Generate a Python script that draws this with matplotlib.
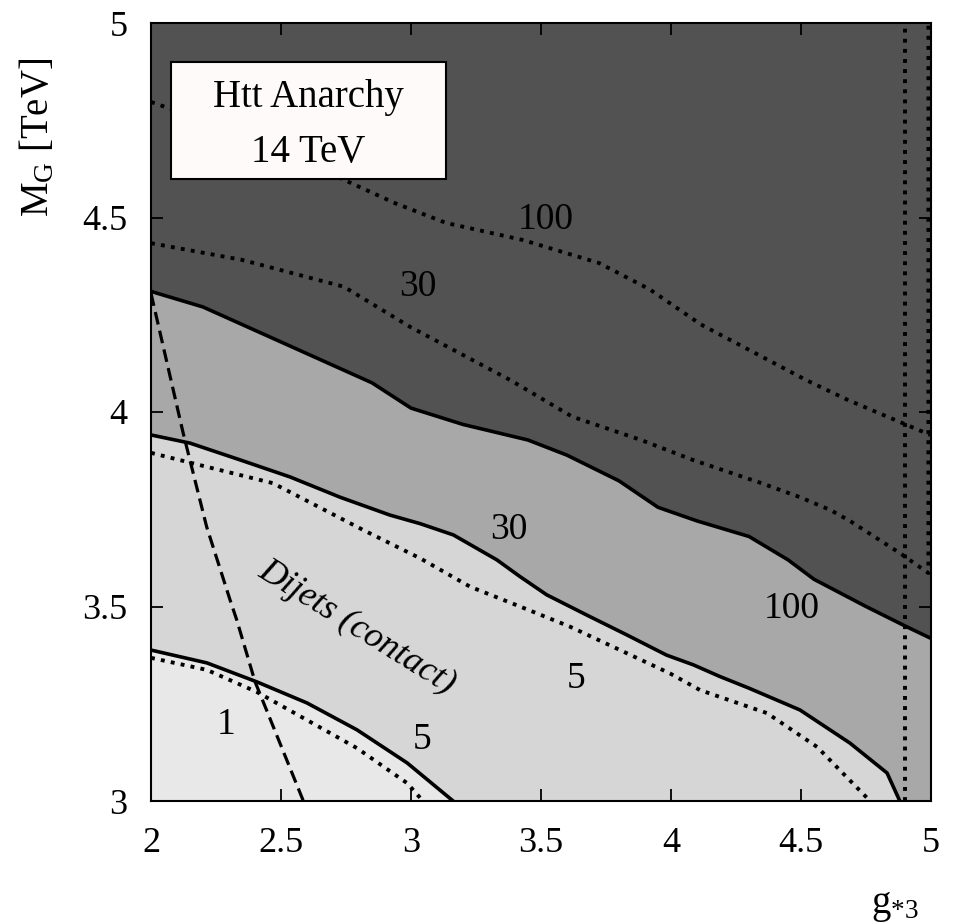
import matplotlib
matplotlib.use("Agg")
import matplotlib.pyplot as plt
from matplotlib.patches import Rectangle
import numpy as np

plt.rcParams['font.family'] = ['Liberation Serif', 'DejaVu Serif']
plt.rcParams['mathtext.fontset'] = 'custom'
plt.rcParams['mathtext.rm'] = 'Liberation Serif'
plt.rcParams['mathtext.it'] = 'Liberation Serif:italic'

# ---- data ----
# solid contour "100" (dark / mid boundary)
top_x = [2.0, 2.2, 2.45, 2.65, 2.85, 3.0, 3.2, 3.45, 3.6, 3.8, 3.95, 4.1, 4.3, 4.45, 4.55, 4.75, 4.9, 5.0]
top_y = [4.31, 4.27, 4.195, 4.135, 4.075, 4.01, 3.968, 3.928, 3.889, 3.823, 3.755, 3.72, 3.68, 3.62, 3.57, 3.5, 3.45, 3.418]
# solid contour "30"
mid_x = [2.0, 2.15, 2.342, 2.535, 2.727, 2.919, 3.035, 3.163, 3.33, 3.419, 3.522, 3.676, 3.83, 3.983, 4.086, 4.188, 4.3, 4.496, 4.688, 4.831, 4.88]
mid_y = [3.941, 3.92, 3.877, 3.833, 3.781, 3.735, 3.713, 3.684, 3.62, 3.577, 3.53, 3.478, 3.427, 3.375, 3.35, 3.32, 3.29, 3.234, 3.149, 3.072, 3.0]
# solid contour "5"
low_x = [2.0, 2.215, 2.408, 2.6, 2.792, 2.985, 3.162]
low_y = [3.388, 3.355, 3.306, 3.252, 3.183, 3.098, 3.0]
# dotted contours
d5a_x = [2.0, 2.215, 2.469, 2.815, 3.035, 3.227, 3.419, 3.612, 3.804, 3.996, 4.112, 4.369, 4.562, 4.754, 4.76]
d5a_y = [3.895, 3.859, 3.817, 3.697, 3.624, 3.551, 3.5, 3.448, 3.388, 3.328, 3.285, 3.226, 3.139, 3.008, 3.0]
d1_x = [2.0, 2.215, 2.408, 2.6, 2.792, 2.985, 3.046]
d1_y = [3.368, 3.337, 3.28, 3.208, 3.136, 3.046, 3.0]
d30_x = [2.0, 2.35, 2.742, 2.996, 3.382, 3.62, 3.885, 4.083, 4.348, 4.496, 4.613, 4.688, 4.881, 4.99, 4.99]
d30_y = [4.434, 4.391, 4.322, 4.219, 4.082, 3.988, 3.928, 3.877, 3.817, 3.781, 3.748, 3.72, 3.637, 3.586, 5.0]
d100_x = [2.0, 2.2, 2.5, 2.742, 2.938, 3.135, 3.431, 3.723, 3.919, 4.115, 4.52, 4.68, 4.892, 4.997]
d100_y = [4.797, 4.75, 4.67, 4.597, 4.537, 4.486, 4.442, 4.383, 4.315, 4.225, 4.082, 4.031, 3.971, 3.941]
vline_x = 4.9
# dashed: dijets (contact)
dj_x = [2.0, 2.124, 2.214, 2.304, 2.33, 2.4, 2.586]
dj_y = [4.305, 3.945, 3.705, 3.517, 3.465, 3.307, 3.0]

xticks = [2, 2.5, 3, 3.5, 4, 4.5, 5]
yticks = [3, 3.5, 4, 4.5, 5]
xtick_labels = ['2', '2.5', '3', '3.5', '4', '4.5', '5']
ytick_labels = ['3', '3.5', '4', '4.5', '5']

# contour labels: (x, y, text)
labels = [(3.518, 4.494, '100'), (3.027, 4.321, '30'), (3.375, 3.697, '30'),
          (4.464, 3.495, '100'), (3.637, 3.315, '5'), (2.288, 3.195, '1'),
          (3.041, 3.157, '5')]

# ---- figure ----
fig = plt.figure(figsize=(9.64, 9.23), dpi=100)
ax = fig.add_axes([151/964, 1-801/923, 780/964, 778/923])
ax.set_xlim(2, 5)
ax.set_ylim(3, 5)

c_dark = '#525252'
c_mid = '#a8a8a8'
c_light = '#d6d6d6'
c_lightest = '#e8e8e8'
ax.set_facecolor(c_dark)

ax.fill(top_x + [5, 2], top_y + [3, 3], color=c_mid, lw=0, zorder=1)
ax.fill(mid_x + [2], mid_y + [3], color=c_light, lw=0, zorder=1.1)
ax.fill(low_x + [2], low_y + [3], color=c_lightest, lw=0, zorder=1.2)

lw_s = 2.6
ax.plot(top_x, top_y, color='black', lw=lw_s, zorder=3, solid_joinstyle='round')
ax.plot(mid_x, mid_y, color='black', lw=lw_s, zorder=3, solid_joinstyle='round')
ax.plot(low_x, low_y, color='black', lw=lw_s, zorder=3, solid_joinstyle='round')

dot = (0, (1, 1.6))
lw_d = 2.8
for xs, ys in [(d5a_x, d5a_y), (d1_x, d1_y), (d30_x, d30_y), (d100_x, d100_y)]:
    ax.plot(xs, ys, color='black', lw=lw_d, ls=dot, zorder=2.5)
ax.plot([vline_x, vline_x], [3, 5], color='black', lw=lw_d, ls=dot, zorder=2.5)

ax.plot(dj_x, dj_y, color='black', lw=2.3, ls=(0, (4, 2)), zorder=3)

for x, y, t in labels:
    ax.text(x, y, t, fontsize=27, ha='center', va='center', zorder=4)

ax.text(2.79, 3.446, 'Dijets (contact)', fontsize=26, style='italic',
        rotation=-31.9, rotation_mode='anchor', ha='center', va='center', zorder=4)

# label box
ax.add_patch(Rectangle((2.077, 4.599), 1.058, 0.301, facecolor='#fffafa',
                       edgecolor='black', lw=1.5, zorder=5))
ax.text(2.606, 4.785, 'Htt Anarchy', fontsize=28, ha='center', va='baseline', zorder=6)
ax.text(2.606, 4.643, '14 TeV', fontsize=28, ha='center', va='baseline', zorder=6)

ax.set_xticks(xticks)
ax.set_xticklabels(xtick_labels)
ax.set_yticks(yticks)
ax.set_yticklabels(ytick_labels)
ax.tick_params(direction='in', length=8.5, width=1.3, top=True, right=True,
               labelsize=26)
ax.tick_params(axis='x', pad=19)
ax.tick_params(axis='y', pad=17)
for s in ax.spines.values():
    s.set_linewidth(1.5)
    s.set_zorder(7)

ax.text(0.954, -0.144, r'g$_{*3}$', transform=ax.transAxes, fontsize=28,
        ha='center', va='baseline')
ax.text(-0.145, 0.853, r'M$_\mathrm{G}$ [TeV]', transform=ax.transAxes,
        fontsize=28, rotation=90, ha='center', va='center')

fig.savefig('out.png', dpi=100)
